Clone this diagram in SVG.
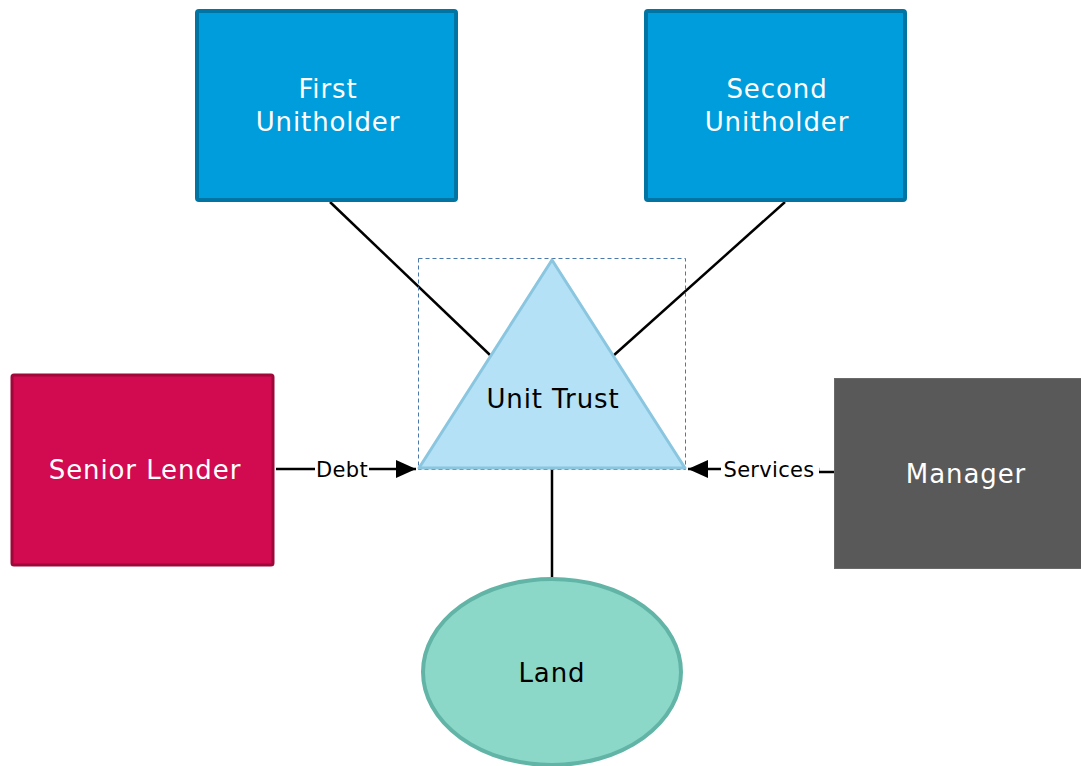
<svg xmlns="http://www.w3.org/2000/svg" width="1081" height="766" viewBox="0 0 1081 766">
  <style>
    .lbl { font-family: "DejaVu Sans", Verdana, sans-serif; font-size: 26px; letter-spacing: 0.9px; text-anchor: middle; }
    .w { fill: #ffffff; }
    .k { fill: #000000; }
    .edge { stroke: #000; stroke-width: 2.5; fill: none; }
    .elbl { font-family: "DejaVu Sans", Verdana, sans-serif; font-size: 21px; letter-spacing: 0.3px; text-anchor: middle; fill: #000; }
  </style>
  <defs>
    <marker id="arr" viewBox="0 0 20 18" refX="20" refY="9" markerWidth="20" markerHeight="18" markerUnits="userSpaceOnUse" orient="auto">
      <path d="M0,0 L20,9 L0,18 Z" fill="#000"/>
    </marker>
  </defs>
  <rect width="1081" height="766" fill="#ffffff"/>

  <g id="connectors">
    <line class="edge" x1="330" y1="202" x2="490" y2="355"/>
    <line class="edge" x1="785" y1="202" x2="613" y2="356"/>
    <line class="edge" x1="552" y1="469" x2="552" y2="578"/>
    <line class="edge" x1="276" y1="469" x2="416" y2="469" marker-end="url(#arr)"/>
    <rect x="315" y="456" width="54" height="26" fill="#fff"/>
    <text class="elbl" x="342" y="477">Debt</text>
    <path class="edge" d="M835,472 L818,472 L818,469 L688,469" marker-end="url(#arr)"/>
    <rect x="721" y="456" width="98" height="26" fill="#fff"/>
    <text class="elbl" x="769" y="477">Services</text>
  </g>

  <g id="first-unitholder">
    <rect x="197" y="11" width="259" height="189" fill="#009ddc" stroke="#0074a2" stroke-width="4" rx="2"/>
    <text class="lbl w" x="328" y="98">First</text>
    <text class="lbl w" x="328" y="131">Unitholder</text>
  </g>

  <g id="second-unitholder">
    <rect x="646" y="11" width="259" height="189" fill="#009ddc" stroke="#0074a2" stroke-width="4" rx="2"/>
    <text class="lbl w" x="777" y="98">Second</text>
    <text class="lbl w" x="777" y="131">Unitholder</text>
  </g>

  <g id="unit-trust">
    <rect x="418.5" y="258.5" width="267" height="211" fill="none" stroke="#4a78aa" stroke-width="1" stroke-dasharray="4,3"/>
    <polygon points="552,260 419,468 685,468" fill="#b4e1f5" stroke="#8ac6e0" stroke-width="3" stroke-linejoin="round"/>
    <text class="lbl k" x="553" y="408">Unit Trust</text>
  </g>

  <g id="senior-lender">
    <rect x="12" y="375" width="261" height="190" fill="#d20a50" stroke="#a0083a" stroke-width="3" rx="2"/>
    <text class="lbl w" x="145" y="479">Senior Lender</text>
  </g>

  <g id="manager">
    <rect x="834.5" y="378.5" width="250" height="190" fill="#595959" stroke="#6a6a6a" stroke-width="1"/>
    <text class="lbl w" x="966" y="483">Manager</text>
  </g>

  <g id="land">
    <ellipse cx="552" cy="672" rx="129" ry="93" fill="#8bd8c9" stroke="#62b5a6" stroke-width="4"/>
    <text class="lbl k" x="552" y="682">Land</text>
  </g>
</svg>
